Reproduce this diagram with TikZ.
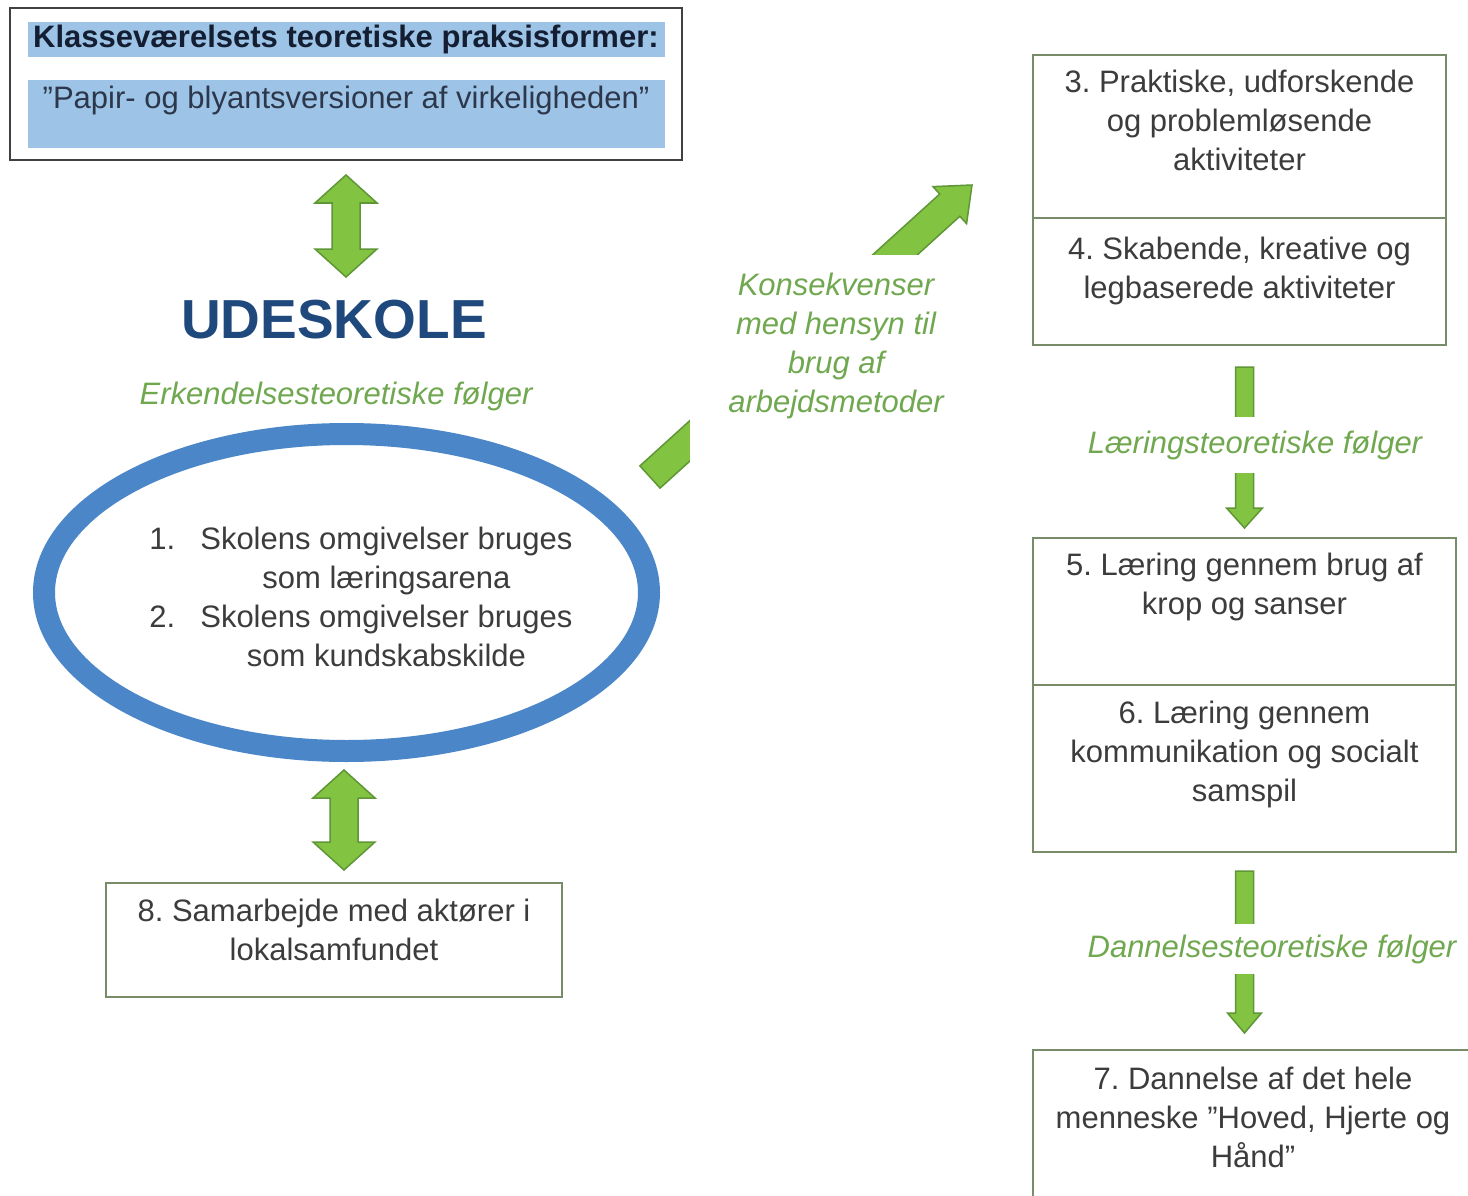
\documentclass[tikz,border=0pt]{standalone}
\usepackage{fontspec}
\setmainfont{Liberation Sans}
\frenchspacing
\usetikzlibrary{positioning,calc,shapes.geometric}

\definecolor{arrowfill}{RGB}{130,195,65}
\definecolor{arrowline}{RGB}{95,150,55}
\definecolor{boxline}{RGB}{120,140,105}
\definecolor{bandblue}{RGB}{157,195,230}
\definecolor{ringblue}{RGB}{74,134,200}
\definecolor{udeblue}{RGB}{31,73,125}
\definecolor{labelgreen}{RGB}{112,168,80}
\definecolor{txtgray}{RGB}{60,60,60}
\definecolor{titlenavy}{RGB}{20,30,50}
\definecolor{papirslate}{RGB}{45,55,75}

\tikzset{
  box/.style={draw=boxline, line width=2pt, outer sep=0pt, inner sep=0pt},
  band/.style={fill=bandblue, minimum width=637pt, inner sep=0pt, outer sep=0pt},
  txt/.style={inner sep=0pt, align=center, text=txtgray, font=\fontsize{31}{39}\selectfont},
  folge/.style={inner sep=0pt, align=center, text=labelgreen, font=\fontsize{31}{39}\selectfont\itshape},
  fatarrow/.style={fill=arrowfill, draw=arrowline, line width=1.5pt},
}

% block arrow from #1 to #2: half shaft #3, half head #4, head length #5
\newcommand\blockarrow[5]{%
  \coordinate (ba-h) at ($(#2)!#5!(#1)$);
  \filldraw[fatarrow] ($(#1)!#3!90:(#2)$) -- ($(ba-h)!#3!90:(#2)$) -- ($(ba-h)!#4!90:(#2)$)
    -- (#2) -- ($(ba-h)!#4!-90:(#2)$) -- ($(ba-h)!#3!-90:(#2)$) -- ($(#1)!#3!-90:(#2)$) -- cycle;
}
% same, with a head at both ends
\newcommand\dblarrow[5]{%
  \coordinate (da-h1) at ($(#1)!#5!(#2)$);
  \coordinate (da-h2) at ($(#2)!#5!(#1)$);
  \filldraw[fatarrow] (#1) -- ($(da-h1)!#4!90:(#2)$) -- ($(da-h1)!#3!90:(#2)$)
    -- ($(da-h2)!#3!90:(#2)$) -- ($(da-h2)!#4!90:(#2)$) -- (#2)
    -- ($(da-h2)!#4!-90:(#2)$) -- ($(da-h2)!#3!-90:(#2)$)
    -- ($(da-h1)!#3!-90:(#2)$) -- ($(da-h1)!#4!-90:(#2)$) -- cycle;
}

\begin{document}
\begin{tikzpicture}[x=1pt, y=-1pt]
  \useasboundingbox (0,0) rectangle (1468,1196);
  \fill[white] (0,0) rectangle (1468,1196);

  % left column
  \node[draw=black!75, line width=2pt, outer sep=0pt, minimum width=672pt, minimum height=152pt] (top) at (346,84) {};
  \node[band, minimum height=35pt, below=14pt of top.north, text=titlenavy,
        font=\fontsize{31}{39}\selectfont\bfseries] (title) {Klasseværelsets teoretiske praksisformer:};
  \node[band, minimum height=68pt, below=72pt of top.north] (papir) {};
  \node[txt, text=papirslate, below=6pt of papir.north] (papir-t) {”Papir- og blyantsversioner af virkeligheden”};

  \node[inner sep=0pt, text=udeblue, font=\fontsize{55}{60}\selectfont\bfseries] (ude) at (334,320) {UDESKOLE};
  \node[folge] (erk) at (336,396) {Erkendelsesteoretiske følger};

  \node[ellipse, draw=ringblue, line width=22pt, outer sep=0pt, minimum width=605pt, minimum height=317pt] (ring) at (346.5,592.5) {};
  \node[txt] (ring-t) at (361,600) {\begin{tabular}{@{}l@{\hspace{25pt}}c@{}}
      1. & Skolens omgivelser bruges\\
         & som læringsarena\\
      2. & Skolens omgivelser bruges\\
         & som kundskabskilde
    \end{tabular}};

  \node[box, minimum width=456pt, minimum height=114pt] (b8) at (334,940) {};
  \node[txt, below=16pt of b8.north] (b8-t) {8. Samarbejde med aktører i\\lokalsamfundet};

  % right column
  \node[box, minimum width=413pt, minimum height=163pt] (b3) at (1239.5,136.5) {};
  \node[box, minimum width=413pt, minimum height=127pt, below=0pt of b3] (b4) {};
  \node[txt, below=15pt of b3.north] (b3-t) {3. Praktiske, udforskende\\og problemløsende\\aktiviteter};
  \node[txt, below=19pt of b4.north] (b4-t) {4. Skabende, kreative og\\legbaserede aktiviteter};

  \node[box, minimum width=423pt, minimum height=147pt] (b5) at (1244.5,611.5) {};
  \node[box, minimum width=423pt, minimum height=167pt, below=0pt of b5] (b6) {};
  \node[txt, below=15pt of b5.north] (b5-t) {5. Læring gennem brug af\\krop og sanser};
  \node[txt, below=16pt of b6.north] (b6-t) {6. Læring gennem\\kommunikation og socialt\\samspil};

  \node[box, minimum width=440pt, minimum height=160pt] (b7) at (1253,1130) {};
  \node[txt, below=17pt of b7.north] (b7-t) {7. Dannelse af det hele\\menneske ”Hoved, Hjerte og\\Hånd”};

  % arrows
  \coordinate (c1a) at ($(top.south)+(0,15)$);
  \coordinate (c1b) at ($(top.south)+(0,117)$);
  \dblarrow{c1a}{c1b}{14pt}{31pt}{28pt}

  \coordinate (c2a) at ($(ring.south)+(-2.5,19)$);
  \coordinate (c2b) at ($(b8.north -| c2a)+(0,-13)$);
  \dblarrow{c2a}{c2b}{14pt}{31pt}{28pt}

  \coordinate (c3a) at ($(b4.south)+(5,22)$);
  \coordinate (c3b) at ($(b5.north)+(0,-10)$);
  \blockarrow{c3a}{c3b}{9pt}{18pt}{20pt}
  \node[folge, fill=white, minimum height=56pt] (laer) at (1255,445) {Læringsteoretiske følger};

  \coordinate (c4a) at ($(b6.south)+(0,19)$);
  \coordinate (c4b) at ($(b7.north -| c4a)+(0,-17)$);
  \blockarrow{c4a}{c4b}{9pt}{17pt}{20pt}
  \node[folge, fill=white, minimum height=50pt] (dann) at (1272,949) {Dannelsesteoretiske følger};

  \coordinate (c5a) at (650,477);
  \coordinate (c5b) at (972,185);
  \blockarrow{c5a}{c5b}{15pt}{25pt}{30pt}
  \fill[white] (690,255) rectangle (945,462);
  \node[folge] (konsq) at (836,346) {Konsekvenser\\med hensyn til\\brug af\\arbejdsmetoder};
\end{tikzpicture}
\end{document}
